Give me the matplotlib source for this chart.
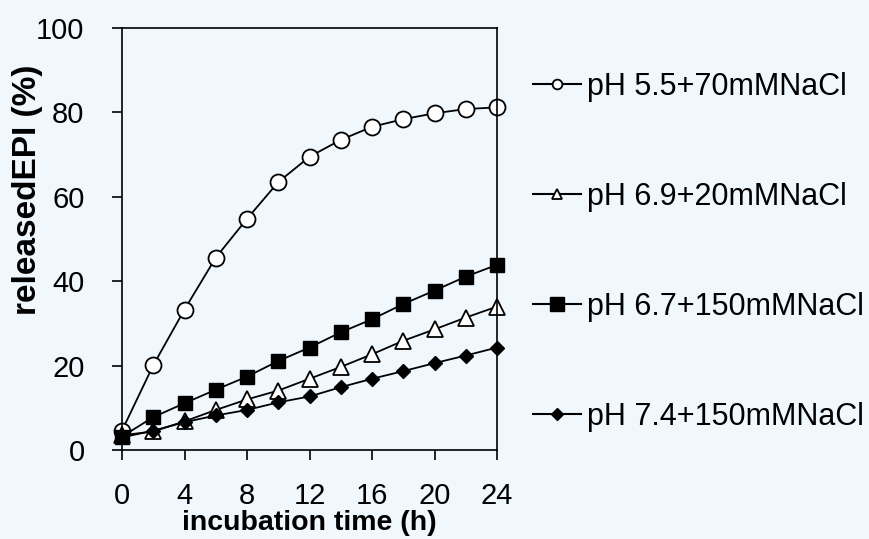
import matplotlib
matplotlib.use('Agg')
from matplotlib import pyplot as plt

plt.rcParams['font.family'] = ['Liberation Sans', 'DejaVu Sans']

# incubation time (h)
hours = [0, 2, 4, 6, 8, 10, 12, 14, 16, 18, 20, 22, 24]

# released EPI (%) per condition
ph55_70 = [4.6, 20.1, 33.3, 45.6, 54.8, 63.5, 69.5, 73.5, 76.6, 78.4, 79.8, 80.8, 81.2]
ph69_20 = [3.5, 4.4, 6.8, 9.5, 12.0, 14.1, 16.9, 19.7, 22.7, 25.9, 28.6, 31.4, 34.0]
ph67_150 = [3.2, 7.8, 11.1, 14.3, 17.4, 21.1, 24.3, 27.9, 31.0, 34.6, 37.8, 41.1, 43.9]
ph74_150 = [3.0, 4.6, 6.6, 8.2, 9.5, 11.3, 12.7, 14.9, 16.9, 18.7, 20.6, 22.4, 24.3]

labels = ['pH 5.5+70mMNaCl', 'pH 6.9+20mMNaCl', 'pH 6.7+150mMNaCl', 'pH 7.4+150mMNaCl']

x_ticks = [0, 4, 8, 12, 16, 20, 24]
y_ticks = [0, 20, 40, 60, 80, 100]

bg = '#f0f8fe'

fig = plt.figure(figsize=(8.69, 5.39), dpi=100, facecolor=bg)
ax = fig.add_axes([0.1404, 0.165, 0.4316, 0.783])
ax.set_facecolor(bg)

ax.plot(hours, ph55_70, '-o', color='black', mfc='white', mec='black', ms=11.5, mew=1.3, lw=1.3, label=labels[0])
ax.plot(hours, ph69_20, '-^', color='black', mfc='white', mec='black', ms=11, mew=1.3, lw=1.3, label=labels[1])
ax.plot(hours, ph67_150, '-s', color='black', mfc='black', ms=10, lw=1.3, label=labels[2])
ax.plot(hours, ph74_150, '-D', color='black', mfc='black', ms=7.5, lw=1.3, label=labels[3])

ax.set_xlim(0, 24)
ax.set_ylim(0, 100)
ax.set_xticks(x_ticks)
ax.set_yticks(y_ticks)
ax.tick_params(direction='out', length=7, width=1.2, labelsize=21, colors='black')
ax.tick_params(axis='x', pad=16)
ax.tick_params(axis='y', pad=20)
for s in ax.spines.values():
    s.set_linewidth(1.2)
for ln in ax.lines:
    ln.set_clip_on(False)

ax.set_xlabel('incubation time (h)', fontsize=20.5, fontweight='bold', labelpad=0)
ax.set_ylabel('releasedEPI (%)', fontsize=24, fontweight='bold')
ax.yaxis.set_label_coords(-0.21, 0.616)

leg = fig.legend(loc='upper left', bbox_to_anchor=(0.5995, 0.89), frameon=False,
                 fontsize=22, handlelength=1.55, handletextpad=0.2,
                 labelspacing=2.62, borderaxespad=0)
# smaller markers in the key, square stays big
for h, size in zip(leg.legend_handles, [7, 6.5, 10, 6.5]):
    h.set_markersize(size)
    h.set_linewidth(1.5)

fig.savefig('out.png', dpi=100, facecolor=bg)
